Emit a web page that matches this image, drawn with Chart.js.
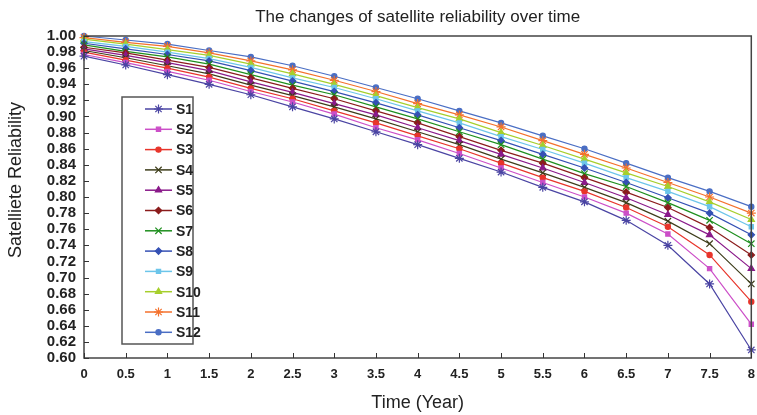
<!DOCTYPE html>
<html>
<head>
<meta charset="UTF-8">
<title>Satellite reliability</title>
<script src="https://cdn.jsdelivr.net/npm/chart.js"></script>
<style>
  html, body { margin: 0; padding: 0; background: #fff; }
  #wrap { width: 757px; height: 415px; }
</style>
</head>
<body>
<div id="wrap"><canvas id="myChart" width="757" height="415"></canvas></div>
<script>
// time axis (years)
const years = [0, 0.5, 1, 1.5, 2, 2.5, 3, 3.5, 4, 4.5, 5, 5.5, 6, 6.5, 7, 7.5, 8];

// reliability of each satellite
const S1  = [0.975,0.964,0.952,0.940,0.927,0.912,0.897,0.881,0.865,0.848,0.831,0.812,0.794,0.771,0.740,0.692,0.610];
const S2  = [0.977,0.967,0.956,0.945,0.931,0.918,0.903,0.886,0.871,0.854,0.836,0.818,0.800,0.780,0.754,0.711,0.642];
const S3  = [0.980,0.970,0.960,0.949,0.935,0.922,0.907,0.892,0.876,0.860,0.842,0.824,0.807,0.787,0.763,0.728,0.670];
const S4  = [0.982,0.973,0.963,0.953,0.939,0.926,0.912,0.897,0.881,0.865,0.847,0.830,0.812,0.793,0.770,0.742,0.692];
const S5  = [0.984,0.976,0.967,0.957,0.943,0.930,0.916,0.902,0.886,0.870,0.853,0.836,0.818,0.799,0.778,0.753,0.711];
const S6  = [0.986,0.979,0.970,0.961,0.948,0.935,0.922,0.907,0.892,0.875,0.858,0.842,0.824,0.806,0.787,0.762,0.728];
const S7  = [0.989,0.981,0.974,0.965,0.952,0.939,0.927,0.912,0.897,0.881,0.865,0.847,0.829,0.813,0.793,0.771,0.742];
const S8  = [0.991,0.984,0.977,0.969,0.957,0.944,0.931,0.917,0.902,0.886,0.870,0.853,0.836,0.818,0.799,0.780,0.753];
const S9  = [0.993,0.987,0.980,0.972,0.961,0.948,0.936,0.922,0.907,0.892,0.875,0.859,0.842,0.824,0.807,0.788,0.763];
const S10 = [0.996,0.990,0.983,0.976,0.965,0.953,0.940,0.926,0.911,0.897,0.880,0.864,0.847,0.830,0.813,0.794,0.772];
const S11 = [0.998,0.992,0.987,0.979,0.969,0.958,0.945,0.931,0.916,0.902,0.887,0.870,0.853,0.836,0.818,0.800,0.780];
const S12 = [1.000,0.995,0.990,0.982,0.974,0.963,0.950,0.936,0.922,0.907,0.892,0.876,0.860,0.842,0.824,0.807,0.788];

const seriesNames = ['S1','S2','S3','S4','S5','S6','S7','S8','S9','S10','S11','S12'];
const seriesData = [S1, S2, S3, S4, S5, S6, S7, S8, S9, S10, S11, S12];

const colors = ['#4a44a3','#cc4fc8','#e8352b','#3d3d1a','#8a1a8a','#8b1c1c',
                '#1e8f1e','#3450b4','#6cc5ea','#a6cf2c','#f4712c','#4a6ec4'];
const markers = ['star','rect','circle','crossRot','triangle','rectRot',
                 'crossRot','rectRot','rect','triangle','star','circle'];
const markerSize = {star: 4.5, crossRot: 4.5, rect: 3, circle: 2.6, triangle: 3.6, rectRot: 3.2};

const FONT = '"Liberation Sans", Arial, sans-serif';

const datasets = seriesNames.map((name, i) => ({
  label: name,
  data: years.map((t, j) => ({x: t, y: seriesData[i][j]})),
  borderColor: colors[i],
  backgroundColor: colors[i],
  borderWidth: 1.2,
  pointStyle: markers[i],
  pointRadius: markerSize[markers[i]],
  pointBorderWidth: 1.2,
  pointBackgroundColor: colors[i],
  pointBorderColor: colors[i],
  tension: 0,
  clip: false
}));

// frame, inward ticks, titles and the boxed legend
const decor = {
  id: 'decor',
  afterDraw(chart) {
    const ctx = chart.ctx;
    const a = chart.chartArea;
    const xs = chart.scales.x, ys = chart.scales.y;
    ctx.save();

    // plot frame
    ctx.strokeStyle = '#444';
    ctx.lineWidth = 1.5;
    ctx.strokeRect(a.left, a.top, a.right - a.left, a.bottom - a.top);

    // inward tick marks
    ctx.lineWidth = 1;
    ctx.strokeStyle = '#333';
    ctx.beginPath();
    xs.ticks.forEach(t => {
      const px = Math.round(xs.getPixelForValue(t.value)) + 0.5;
      ctx.moveTo(px, a.bottom);
      ctx.lineTo(px, a.bottom - 5);
    });
    ys.ticks.forEach(t => {
      const py = Math.round(ys.getPixelForValue(t.value)) + 0.5;
      ctx.moveTo(a.left, py);
      ctx.lineTo(a.left + 5, py);
    });
    ctx.stroke();

    // titles
    ctx.fillStyle = '#222';
    ctx.textAlign = 'center';
    ctx.textBaseline = 'middle';
    ctx.font = '17px ' + FONT;
    ctx.fillText('The changes of satellite reliability over time', (a.left + a.right) / 2, 17);
    ctx.font = '18px ' + FONT;
    ctx.fillText('Time (Year)', (a.left + a.right) / 2, 403);
    ctx.save();
    ctx.translate(16, 180);
    ctx.rotate(-Math.PI / 2);
    ctx.fillText('Satelliete Reliability', 0, 0);
    ctx.restore();

    // legend box
    const bx = 122, by = 97, bw = 71, bh = 247;
    ctx.fillStyle = '#fff';
    ctx.fillRect(bx, by, bw, bh);
    ctx.strokeStyle = '#555';
    ctx.lineWidth = 1.5;
    ctx.strokeRect(bx, by, bw, bh);

    const draw = Chart.helpers && Chart.helpers.drawPoint;
    chart.data.datasets.forEach((ds, i) => {
      const yy = 109 + i * 20.3;
      ctx.strokeStyle = ds.borderColor;
      ctx.fillStyle = ds.borderColor;
      ctx.lineWidth = 1.5;
      ctx.beginPath();
      ctx.moveTo(145, yy);
      ctx.lineTo(172, yy);
      ctx.stroke();
      ctx.lineWidth = 1.2;
      if (draw) {
        draw(ctx, {pointStyle: ds.pointStyle, radius: ds.pointRadius, rotation: 0, borderWidth: 1.2}, 158.5, yy);
      } else {
        ctx.beginPath();
        ctx.arc(158.5, yy, 3, 0, Math.PI * 2);
        ctx.fill();
      }
      ctx.fillStyle = '#222';
      ctx.textAlign = 'left';
      ctx.textBaseline = 'middle';
      ctx.font = 'bold 14px ' + FONT;
      ctx.fillText(ds.label, 176, yy + 1);
    });

    ctx.restore();
  }
};

const ctx = document.getElementById('myChart').getContext('2d');
const chart = new Chart(ctx, {
  type: 'line',
  data: { datasets: datasets },
  options: {
    responsive: false,
    animation: false,
    devicePixelRatio: 1,
    layout: { padding: { top: 36, right: 0, left: 0, bottom: 0 } },
    plugins: {
      legend: { display: false },
      title: { display: false },
      tooltip: { enabled: false }
    },
    scales: {
      x: {
        type: 'linear',
        min: 0,
        max: 8,
        afterFit: s => { s.height = 57; s.paddingRight = -4; s.paddingLeft = 0; },
        grid: { display: false, drawTicks: false },
        border: { display: false },
        ticks: {
          stepSize: 0.5,
          autoSkip: false,
          maxRotation: 0,
          padding: 9,
          color: '#222',
          font: { family: FONT, size: 13, weight: 'bold' },
          callback: v => String(Math.round(v * 10) / 10)
        }
      },
      y: {
        type: 'linear',
        min: 0.6,
        max: 1.0,
        afterFit: s => { s.width = 84; s.paddingTop = 0; s.paddingBottom = 0; },
        grid: { display: false, drawTicks: false },
        border: { display: false },
        ticks: {
          stepSize: 0.02,
          autoSkip: false,
          padding: 8,
          color: '#222',
          font: { family: FONT, size: 15, weight: 'bold' },
          callback: v => v.toFixed(2)
        }
      }
    }
  },
  plugins: [decor]
});
</script>
</body>
</html>
